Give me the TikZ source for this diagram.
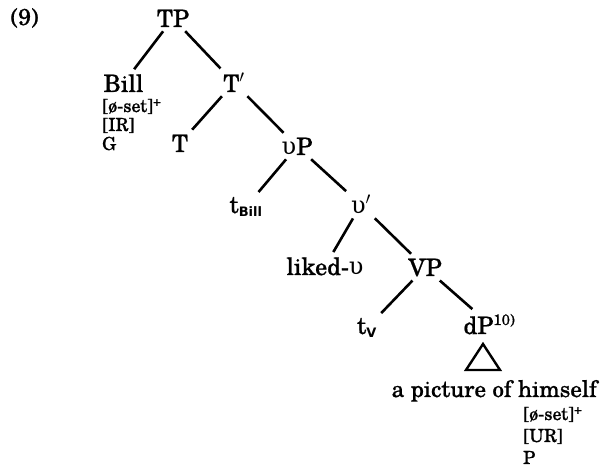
\documentclass[tikz,border=0pt]{standalone}
\usepackage{fontspec}
\setmainfont{TeX Gyre Schola}[FakeBold=0.8]
\setsansfont{DejaVu Sans}
\newfontfamily\grk{DejaVu Serif}
\newcommand{\ups}{{\grk υ}}
\newcommand{\tsub}[1]{\textsubscript{\sffamily\bfseries\fontsize{13}{13}\selectfont #1}}
\begin{document}
\begin{tikzpicture}[x=1pt,y=-1pt,
  lbl/.style={inner sep=1.5pt, outer sep=2pt, anchor=base,
    font=\fontsize{24}{28}\selectfont},
  feat/.style={inner sep=0pt, anchor=base west,
    font=\fontsize{18}{20}\selectfont},
  branch/.style={line width=2.6pt, shorten <=1pt, shorten >=2pt},
  tri/.style={line width=2.4pt, line join=miter}]
\useasboundingbox (0,0) rectangle (606,473);

% example number
\node[lbl, anchor=base west, font=\fontsize{23}{26}\selectfont] (num) at (7,25) {(9)};

% tree labels
\node[lbl] (TP) at (173,27) {TP};
\node[lbl, anchor=base west] (Bill) at (100,92) {Bill};
\node[feat] (billf1) at (102,112) {[ø-set]\textsuperscript{+}};
\node[feat] (billf2) at (102,131) {[IR]};
\node[feat] (billf3) at (102,150) {G};
\node[lbl] (Tbar) at (234,92) {T$'$};
\node[lbl] (T) at (180,152) {T};
\node[lbl] (vP) at (297,155) {\ups P};
\node[lbl] (tBill) at (246,213) {t\tsub{Bill}};
\node[lbl] (vbar) at (361,214) {\ups$'$};
\node[lbl] (liked) at (325,275) {liked-\ups};
\node[lbl] (VP) at (425,276) {VP};
\node[lbl] (tv) at (367,334) {t\tsub{V}};
\node[lbl, anchor=base west] (dP) at (460,334) {dP\textsuperscript{\fontsize{15}{15}\selectfont 10)}};

% branches
\draw[branch] (TP) -- (Bill);
\draw[branch] (TP) -- (Tbar);
\draw[branch] (Tbar) -- (T);
\draw[branch] (Tbar) -- (vP);
\draw[branch] (vP) -- (tBill);
\draw[branch] (vP) -- (vbar);
\draw[branch] (vbar) -- (liked);
\draw[branch] (vbar) -- (VP);
\draw[branch] (VP) -- (tv);
\draw[branch] (VP) -- (dP);

% collapsed constituent
\coordinate (apex) at (483,344);
\draw[tri] (apex) -- ++(-17,26) -- ++(34,0) -- cycle;
\node[lbl, anchor=base west, font=\fontsize{23}{26}\selectfont] (obj) at (388,397) {a picture of himself};
\node[feat] (objf1) at (523,420) {[ø-set]\textsuperscript{+}};
\node[feat] (objf2) at (523,442) {[UR]};
\node[feat] (objf3) at (523,464) {P};
\end{tikzpicture}
\end{document}
